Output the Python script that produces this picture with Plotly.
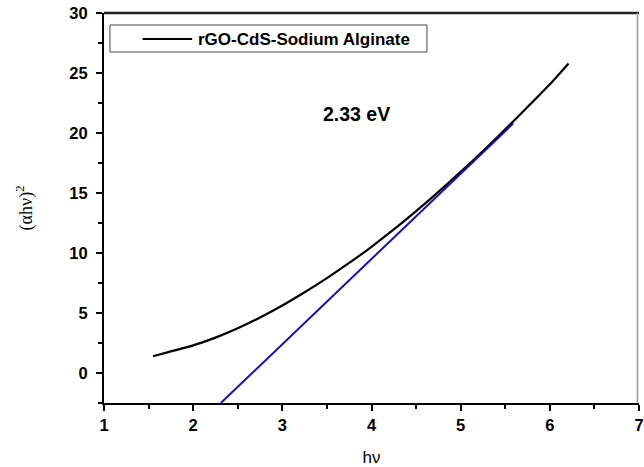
import plotly.graph_objects as go

# Data
hv = [1.55, 1.75, 2.0, 2.25, 2.5, 2.75, 3.0, 3.25, 3.5, 3.75, 4.0,
      4.25, 4.5, 4.75, 5.0, 5.25, 5.5, 5.75, 6.0, 6.21]
ahv2 = [1.4, 1.8, 2.3, 2.95, 3.73, 4.63, 5.63, 6.73, 7.91, 9.17, 10.52,
        11.96, 13.49, 15.09, 16.76, 18.5, 20.3, 22.16, 24.06, 25.8]
fit_x = [2.31, 5.59]
fit_y = [-2.5, 20.8]
series_name = "rGO-CdS-Sodium Alginate"
gap_label = "2.33 eV"

fig = go.Figure()
fig.add_trace(go.Scatter(x=hv, y=ahv2, mode="lines", name=series_name,
                         line=dict(color="black", width=2.2, shape="spline", smoothing=0.6),
                         showlegend=False))
fig.add_trace(go.Scatter(x=fit_x, y=fit_y, mode="lines", name="fit",
                         line=dict(color="#1010CC", width=2), showlegend=False))

axis_common = dict(showgrid=False, zeroline=False, showline=True, linecolor="black",
                   linewidth=2, ticks="outside", ticklen=6, tickwidth=2, tickcolor="black",
                   mirror=False,
                   tickfont=dict(family="Liberation Sans, Arial", size=16.5, color="black",
                                 weight="bold"))

fig.update_xaxes(range=[1, 7], dtick=1, **axis_common, ticklabeloverflow="allow",
                 minor=dict(ticks="outside", ticklen=4, tickwidth=2, dtick=0.5, tickcolor="black"),
                 title=dict(text="hν", font=dict(family="Liberation Sans, Arial", size=17, color="black"),
                            standoff=18))
fig.update_yaxes(range=[-2.5, 30], dtick=5, **axis_common, ticklabelstandoff=5,
                 minor=dict(ticks="outside", ticklen=4, tickwidth=2, dtick=2.5, tickcolor="black"),
                 title=dict(text="(αhν)<sup>2</sup>",
                            font=dict(family="Liberation Serif, Times New Roman", size=18, color="black"),
                            standoff=32))

# Frame lines (top and right) and legend box placed in paper pixels
W, H = 644, 467
L, R, T, B = 104, 0, 13, 64
pw, ph = W - L - R, H - T - B
def px(xp):
    return (xp - L) / pw
def py(yp):
    return 1 - (yp - T) / ph

fig.add_shape(type="line", xref="paper", yref="paper", x0=0, x1=1, y0=1, y1=1,
              line=dict(color="#222222", width=2.5))
fig.add_shape(type="line", xref="paper", yref="paper", x0=px(642.5), x1=px(642.5), y0=0, y1=1,
              line=dict(color="#999999", width=1.5))

fig.add_shape(type="rect", xref="paper", yref="paper",
              x0=px(110), x1=px(430), y0=py(52), y1=py(25),
              line=dict(color="#444444", width=1), fillcolor="white")
fig.add_shape(type="line", xref="paper", yref="paper",
              x0=px(143), x1=px(193), y0=py(39), y1=py(39),
              line=dict(color="black", width=2))
fig.add_annotation(xref="paper", yref="paper", x=px(197), y=py(39.5),
                   text=series_name, showarrow=False, xanchor="left", yanchor="middle",
                   font=dict(family="Liberation Sans, Arial", size=17, color="black", weight="bold"))
fig.add_annotation(x=3.83, y=21.6, text=gap_label, showarrow=False,
                   font=dict(family="Liberation Sans, Arial", size=19.5, color="black", weight="bold"))

fig.update_layout(width=W, height=H, margin=dict(l=L, r=R, t=T, b=B),
                  plot_bgcolor="white", paper_bgcolor="white")

fig.write_html("out.html")
